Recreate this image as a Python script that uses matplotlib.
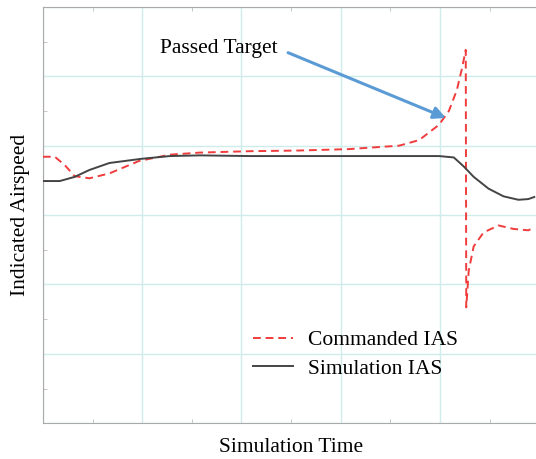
import matplotlib.pyplot as plt
from matplotlib.ticker import MultipleLocator

# (x in grid units, y in grid units)
sim_t = [0.0, 0.17, 0.32, 0.47, 0.67, 0.99, 1.28, 1.58, 2.08, 2.58, 3.08, 3.59,
         3.99, 4.14, 4.24, 4.34, 4.49, 4.64, 4.79, 4.89, 4.95]
sim_ias = [3.49, 3.49, 3.55, 3.65, 3.75, 3.81, 3.85, 3.86, 3.85, 3.85, 3.85, 3.85,
           3.85, 3.83, 3.70, 3.55, 3.38, 3.27, 3.22, 3.23, 3.26]

cmd_t = [0.0, 0.12, 0.22, 0.32, 0.47, 0.67, 0.97, 1.28, 1.58, 2.08, 2.58, 3.08,
         3.59, 3.79, 3.99, 4.09, 4.17, 4.22, 4.26, 4.265, 4.29, 4.34, 4.44,
         4.59, 4.74, 4.89, 4.95]
cmd_ias = [3.84, 3.84, 3.72, 3.56, 3.53, 3.60, 3.78, 3.87, 3.90, 3.92, 3.93, 3.95,
           4.00, 4.08, 4.30, 4.50, 4.80, 5.10, 5.38, 1.67, 2.20, 2.55, 2.75,
           2.85, 2.80, 2.78, 2.82]

fig = plt.figure(figsize=(5.36, 4.59), dpi=100)
ax = fig.add_axes([0.080, 0.078, 0.926, 0.907])

grid_col = '#cdecea'
ax.plot(cmd_t, cmd_ias, color='#f03c3c', lw=1.4, ls=(0, (4, 2.5)), label='Commanded IAS', zorder=3)
ax.plot(sim_t, sim_ias, color='#444444', lw=1.4, label='Simulation IAS', zorder=3)

ax.set_xlim(0, 5.0)
ax.set_ylim(0, 6)
ax.xaxis.set_major_locator(MultipleLocator(1))
ax.yaxis.set_major_locator(MultipleLocator(1))
ax.xaxis.set_minor_locator(MultipleLocator(0.5))
ax.yaxis.set_minor_locator(MultipleLocator(0.5))
ax.grid(True, which='major', color=grid_col, lw=1)
ax.tick_params(which='both', labelbottom=False, labelleft=False, direction='in')
ax.tick_params(which='major', length=0)
ax.tick_params(which='minor', length=3, color='#bbbbbb', top=True)
for s in ax.spines.values():
    s.set_color('#aaaaaa')
ax.spines['right'].set_visible(False)

serif = 'Liberation Serif'
fs = 15.5
ax.set_xlabel('Simulation Time', family=serif, fontsize=fs, labelpad=11)
ax.set_ylabel('Indicated Airspeed', family=serif, fontsize=fs, labelpad=9)

ax.text(1.18, 5.4, 'Passed Target', family=serif, fontsize=fs, va='center')
ax.annotate('', xy=(4.06, 4.4), xytext=(2.47, 5.34),
            arrowprops=dict(arrowstyle='-|>', color='#5b9bd5', lw=2.2, shrinkA=0,
                            shrinkB=0, mutation_scale=18))

leg = ax.legend(loc='upper left', bbox_to_anchor=(0.385, 0.27), frameon=False,
                prop={'family': serif, 'size': fs}, handlelength=1.85,
                labelspacing=0.4, handletextpad=0.7)

fig.savefig('out.png', dpi=100)
